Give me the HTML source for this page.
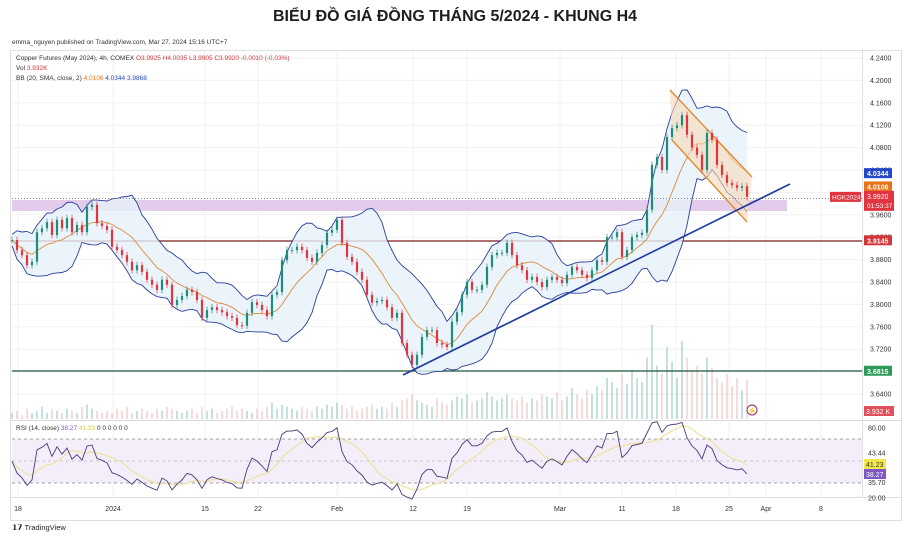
<!DOCTYPE html>
<html><head><meta charset="utf-8">
<style>
html,body{margin:0;padding:0;background:#fff;}
body{width:911px;height:544px;overflow:hidden;font-family:"Liberation Sans","Noto Sans CJK SC",sans-serif;}
svg text{font-family:"Liberation Sans","Noto Sans CJK SC",sans-serif;}
</style></head>
<body>
<svg id="chart" width="911" height="544" viewBox="0 0 911 544" xmlns="http://www.w3.org/2000/svg">
<text x="455" y="21" text-anchor="middle" font-size="16" font-weight="bold" fill="#1e1e1e" textLength="364" lengthAdjust="spacingAndGlyphs">BIỂU ĐỒ GIÁ ĐỒNG THÁNG 5/2024 - KHUNG H4</text>
<text x="12" y="44" font-size="6.5" fill="#333">emma_nguyen published on TradingView.com, Mar 27, 2024 15:16 UTC+7</text>
<rect x="10.5" y="50.5" width="891" height="470" fill="none" stroke="#e0e0e0"/>
<line x1="862.5" y1="50" x2="862.5" y2="497" stroke="#e0e0e0"/>
<line x1="10" y1="420.5" x2="901" y2="420.5" stroke="#d8d8d8"/>
<line x1="10" y1="497.5" x2="901" y2="497.5" stroke="#e0e0e0"/>
<g id="grid"></g>
<g id="vol"></g>
<rect x="12" y="200" width="775" height="11" fill="#e3cbeb"/>
<line x1="12" y1="241" x2="862" y2="241" stroke="#7a1c1c" stroke-width="1.3"/>
<line x1="12" y1="371" x2="862" y2="371" stroke="#1c5a3a" stroke-width="1.3"/>
<g id="bb"></g>
<polygon points="670,90 752,177 747,222 672,140" fill="#f6d9b8" fill-opacity="0.6"/>
<line x1="670" y1="90" x2="752" y2="177" stroke="#e08a2a" stroke-width="1.3"/>
<line x1="672" y1="140" x2="747" y2="222" stroke="#e08a2a" stroke-width="1.3"/>
<g id="candles"></g>
<line x1="12" y1="198.5" x2="862" y2="198.5" stroke="#888" stroke-dasharray="1,2"/>
<line x1="403" y1="375" x2="790" y2="184" stroke="#1f3a9e" stroke-width="1.6"/>
<g id="rsi"></g>
<g id="axes"></g>
<g font-size="6.5">
<text x="16" y="60" fill="#333">Copper Futures (May 2024), 4h, COMEX <tspan fill="#d2363b">O3.9925 H4.0035 L3.9905 C3.9920 -0.0010 (-0.03%)</tspan></text>
<text x="16" y="70" fill="#333">Vol <tspan fill="#d2363b">3.932K</tspan></text>
<text x="16" y="80" fill="#333">BB (20, SMA, close, 2) <tspan fill="#e8731a">4.0106</tspan> <tspan fill="#2448c8">4.0344</tspan> <tspan fill="#2448c8">3.9868</tspan></text>
<text x="16" y="430" fill="#333">RSI (14, close) <tspan fill="#7e57c2">38.27</tspan> <tspan fill="#d8c640">41.23</tspan> 0 0 0 0 0 0</text>
</g>
<circle cx="752" cy="410" r="5" fill="none" stroke="#8a2a6a" stroke-width="1"/>
<text x="752" y="413" font-size="7" text-anchor="middle" fill="#8a2a6a">⚡</text>
<text x="12" y="530" font-size="7.5" font-weight="bold" fill="#222">𝟭𝟳 <tspan font-weight="normal">TradingView</tspan></text>
</svg>
<script>
const closes=[3.915,3.897,3.888,3.870,3.876,3.929,3.936,3.947,3.924,3.951,3.936,3.954,3.929,3.942,3.929,3.974,3.978,3.945,3.940,3.933,
3.903,3.897,3.888,3.876,3.861,3.870,3.858,3.844,3.835,3.826,3.844,3.835,3.799,3.808,3.815,3.826,3.822,3.808,3.776,3.790,
3.795,3.790,3.786,3.779,3.776,3.763,3.762,3.785,3.804,3.799,3.790,3.779,3.817,3.822,3.879,3.897,3.897,3.903,3.897,3.883,
3.876,3.892,3.906,3.928,3.933,3.951,3.910,3.885,3.876,3.858,3.844,3.817,3.803,3.806,3.808,3.795,3.776,3.785,3.731,3.710,
3.692,3.710,3.742,3.754,3.754,3.731,3.728,3.724,3.769,3.786,3.817,3.840,3.826,3.826,3.835,3.867,3.888,3.892,3.892,3.910,
3.888,3.870,3.861,3.844,3.849,3.840,3.831,3.844,3.849,3.844,3.838,3.853,3.867,3.861,3.853,3.847,3.861,3.879,3.876,3.920,
3.920,3.929,3.885,3.897,3.920,3.924,3.928,3.969,4.049,4.063,4.040,4.099,4.115,4.120,4.138,4.103,4.080,4.067,4.040,4.106,
4.094,4.049,4.031,4.017,4.013,4.008,4.011,3.992];
const volumes=[3,4,2,5,3,4,6,3,5,4,3,5,4,3,6,7,5,4,3,4,
3,5,4,6,3,4,5,4,3,5,4,6,5,4,3,4,5,3,6,4,
5,3,4,5,6,4,5,4,3,5,4,6,8,5,7,6,5,4,6,5,
4,6,5,7,6,8,7,5,6,4,5,6,7,5,6,5,8,6,9,10,
12,9,8,7,6,10,8,7,9,11,10,12,8,9,10,13,11,9,10,12,
10,9,11,8,10,9,12,11,10,13,9,11,15,12,10,14,12,16,14,20,
18,15,22,17,24,20,18,30,46,26,22,35,28,20,38,30,24,26,22,30,
25,20,18,22,16,20,14,19];
const priceTicks=[4.24,4.20,4.16,4.12,4.08,4.04,4.00,3.96,3.92,3.88,3.84,3.80,3.76,3.72,3.68,3.64];
const dateLabels=["18","2024","15","22","Feb","12","19","Mar","11","18","25","Apr","8"];
const dateIdx=[1.2,20.2,38.6,49.2,65,80.2,91,109.6,122,132.8,143.4,150.8,161.8];
const rsiTicks=["80.00","43.44","35.70","20.00"];
const rsiTickVals=[80,57.5,30.5,16.5];

const NS="http://www.w3.org/2000/svg";
const X0=12,STEP=5;
const xOf=i=>X0+i*STEP;
const yP=p=>58+(4.24-p)/0.04*22.4;
const yR=r=>428+(80-r)*1.1;
const yV=v=>419-v*2.05;
function mk(tag,attrs,parent){const e=document.createElementNS(NS,tag);for(const k in attrs)e.setAttribute(k,attrs[k]);parent.appendChild(e);return e;}
const grid=document.getElementById('grid'),axes=document.getElementById('axes');
priceTicks.forEach(p=>{
 const l=mk('line',{x1:11,x2:862,y1:yP(p),y2:yP(p),stroke:'#f1f1f1'},grid);
 
 
 const t=mk('text',{x:870,y:yP(p)+2.5,'font-size':7,fill:'#333'},axes);t.textContent=p.toFixed(4);
 
 
});
dateLabels.forEach((d,i)=>{
 const x=xOf(dateIdx[i]);
 const l=mk('line',{x1:x,x2:x,y1:51,y2:497,stroke:'#f1f1f1'},grid);
 
 
 const t=mk('text',{x:x,y:511,'font-size':7,fill:'#333','text-anchor':'middle'},axes);t.textContent=d;
 
 
});
const vg=document.getElementById('vol');
volumes.forEach((v,i)=>{
 const up=i===0||closes[i]>=closes[i-1];
 const r=mk('rect',{x:xOf(i)-0.5,y:yV(v),width:1,height:419-yV(v),fill:up?'#5aa9a0':'#e39a9a','fill-opacity':0.7},vg);
 
 
});
const N=10,M=1.7,mid=[],upB=[],loB=[];
closes.forEach((c,i)=>{const s=closes.slice(Math.max(0,i-N+1),i+1);const m=s.reduce((a,b)=>a+b,0)/s.length;
 const sd=Math.sqrt(s.reduce((a,b)=>a+(b-m)*(b-m),0)/s.length)+0.006;mid.push(m);upB.push(m+M*sd);loB.push(m-M*sd);});
const bb=document.getElementById('bb');
const pts=a=>a.map((v,i)=>xOf(i)+','+yP(v).toFixed(1)).join(' ');
const fill=mk('polygon',{points:pts(upB)+' '+loB.map((v,i)=>[xOf(i),yP(v).toFixed(1)]).reverse().map(p=>p.join(',')).join(' '),fill:'#e6f1fa','fill-opacity':0.8},bb);


[[upB,'#2b3f9a','bb-upper'],[loB,'#2b3f9a','bb-lower'],[mid,'#e08a3a','bb-basis']].forEach(([a,c,n])=>{
 const l=mk('polyline',{points:pts(a),fill:'none',stroke:c,'stroke-width':0.9},bb);
 
 
});
const cg=document.getElementById('candles');
closes.forEach((c,i)=>{
 const o=i===0?c:closes[i-1];const up=c>=o;const col=up?'#1e8c7a':'#e0353f';
 const hi=Math.max(o,c)+0.006,lo=Math.min(o,c)-0.006;
 const w=mk('line',{x1:xOf(i),x2:xOf(i),y1:yP(hi),y2:yP(lo),stroke:col,'stroke-width':0.7},cg);
 
 
 const b=mk('rect',{x:xOf(i)-1.1,y:yP(Math.max(o,c)),width:2.2,height:Math.max(1,Math.abs(yP(o)-yP(c))),fill:col},cg);
 
 
});
const rg=document.getElementById('rsi');
const band=mk('rect',{x:12,y:yR(70),width:850,height:yR(30)-yR(70),fill:'#f3eefa'},rg);


[[70,'#888'],[50,'#bbb'],[30,'#888']].forEach(([v,c])=>{
 const l=mk('line',{x1:12,x2:862,y1:yR(v),y2:yR(v),stroke:c,'stroke-dasharray':'3,3','stroke-width':0.8},rg);
 
 
});
const P=9,rsi=[];let ag=0.004,al=0.004;
closes.forEach((c,i)=>{if(i===0){rsi.push(50);return;}const d=c-closes[i-1];
 ag=(ag*(P-1)+Math.max(d,0))/P;al=(al*(P-1)+Math.max(-d,0))/P;rsi.push(al===0?100:100-100/(1+ag/al));});
const rma=rsi.map((v,i)=>{const s=rsi.slice(Math.max(0,i-7),i+1);return s.reduce((a,b)=>a+b,0)/s.length;});
const rp=a=>a.map((v,i)=>xOf(i)+','+yR(v).toFixed(1)).join(' ');
const rm=mk('polyline',{points:rp(rma),fill:'none',stroke:'#efe29a','stroke-width':1.2},rg);


const rl=mk('polyline',{points:rp(rsi),fill:'none',stroke:'#4a3a7a','stroke-width':0.9},rg);


rsiTicks.forEach((t,i)=>{const e=mk('text',{x:868,y:yR(rsiTickVals[i])+2.5,'font-size':7,fill:'#333'},axes);e.textContent=t;
 
 });
const tags=[[4.0344,'#2448c8','4.0344'],[4.0106,'#e8731a','4.0106'],[3.9868,'#2448c8','3.9868'],[3.9145,'#d2363b','3.9145'],[3.6815,'#2e9a58','3.6815']];
tags.forEach(([p,c,t])=>{
 const r=mk('rect',{x:864,y:yP(p)-5,width:28,height:10,fill:c},axes);
 
 
 const e=mk('text',{x:867,y:yP(p)+3,'font-size':7,fill:'#fff','font-weight':'bold'},axes);e.textContent=t;
});
const last=closes[closes.length-1];
const lr=mk('rect',{x:864,y:yP(last)-6,width:30,height:20,fill:'#e0353f'},axes);


const lt=mk('text',{x:867,y:yP(last)+2,'font-size':7,fill:'#fff'},axes);lt.textContent=last.toFixed(4);
const lc=mk('text',{x:867,y:yP(last)+11,'font-size':6.5,fill:'#fff'},axes);lc.textContent='01:53:37';
const sr=mk('rect',{x:830,y:yP(last)-5,width:31,height:10,fill:'#e0353f'},axes);


const st=mk('text',{x:832,y:yP(last)+2.5,'font-size':6.5,fill:'#fff'},axes);st.textContent='HGK2024';
const vr=mk('rect',{x:864,y:406,width:30,height:10,fill:'#e0505a'},axes);


const vt=mk('text',{x:866,y:414,'font-size':7,fill:'#fff'},axes);vt.textContent='3.932 K';
[[41.23,'#f3e84a','#333','rsi-ma-tag'],[38.27,'#7e57c2','#fff','rsi-value-tag']].forEach(([v,c,tc,n],i)=>{
 const y=i===0?464:474;
 const r=mk('rect',{x:864,y:y-5,width:22,height:10,fill:c},axes);
 
 
 const e=mk('text',{x:866,y:y+3,'font-size':7,fill:tc},axes);e.textContent=v.toFixed(2);
});
</script>
</body></html>
